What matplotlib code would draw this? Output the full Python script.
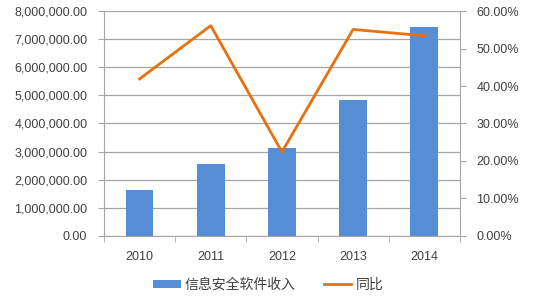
import matplotlib
matplotlib.use("Agg")
import matplotlib.pyplot as plt
from matplotlib.ticker import FuncFormatter, MultipleLocator
from matplotlib.lines import Line2D
from matplotlib.patches import Patch

plt.rcParams['font.family'] = ['Liberation Sans', 'Noto Sans CJK SC', 'DejaVu Sans']

years = ['2010', '2011', '2012', '2013', '2014']
revenue = [1630000, 2560000, 3130000, 4850000, 7430000]
yoy = [41.9, 56.1, 22.4, 55.1, 53.4]
bar_label = '信息安全软件收入'
line_label = '同比'

bar_color = '#558ED5'
line_color = '#E8700E'
text_color = '#404040'
grid_color = '#A6A6A6'

fig = plt.figure(figsize=(5.36, 2.99), dpi=100)
ax = fig.add_axes([0.194, 0.211, 0.664, 0.752])
x = list(range(len(years)))
ax.bar(x, revenue, width=0.39, color=bar_color, zorder=3)
ax.set_xlim(-0.5, len(years) - 0.5)
ax.set_ylim(0, 8000000)
ax.yaxis.set_major_locator(MultipleLocator(1000000))
ax.yaxis.set_major_formatter(FuncFormatter(lambda v, p: f'{v:,.2f}'))
ax.grid(axis='y', color=grid_color, linewidth=0.9, zorder=0)
ax.set_axisbelow(True)
ax.set_xticks(x)
ax.set_xticklabels(years)
ax.set_xticks([i + 0.5 for i in range(-1, len(years))], minor=True)
ax.tick_params(axis='x', which='major', length=0, pad=11, labelsize=9, colors=text_color)
ax.tick_params(axis='x', which='minor', length=4, color=grid_color, direction='out')
ax.tick_params(axis='y', length=4, color=grid_color, labelsize=9, labelcolor=text_color, pad=8)
for s in ['top', 'right']:
    ax.spines[s].set_visible(False)
ax.spines['left'].set_color(grid_color)
ax.spines['bottom'].set_color(grid_color)

ax2 = ax.twinx()
ax2.plot(x, yoy, color=line_color, linewidth=2.0, zorder=4)
ax2.set_ylim(0, 60)
ax2.yaxis.set_major_locator(MultipleLocator(10))
ax2.yaxis.set_major_formatter(FuncFormatter(lambda v, p: f'{v:.2f}%'))
ax2.tick_params(axis='y', length=4, color=grid_color, labelsize=9, labelcolor=text_color, pad=8)
for s in ['top', 'left', 'bottom']:
    ax2.spines[s].set_visible(False)
ax2.spines['right'].set_color(grid_color)

handles = [Patch(facecolor=bar_color, edgecolor='none'),
           Line2D([0], [0], color=line_color, linewidth=2.0)]
leg = fig.legend(handles, [bar_label, line_label], loc='center', bbox_to_anchor=(0.5, 0.047),
                 ncol=2, frameon=False, fontsize=10, handlelength=2.0, handleheight=0.6,
                 columnspacing=2.0, handletextpad=0.3)
for t in leg.get_texts():
    t.set_color(text_color)

fig.savefig('out.png', dpi=100)
